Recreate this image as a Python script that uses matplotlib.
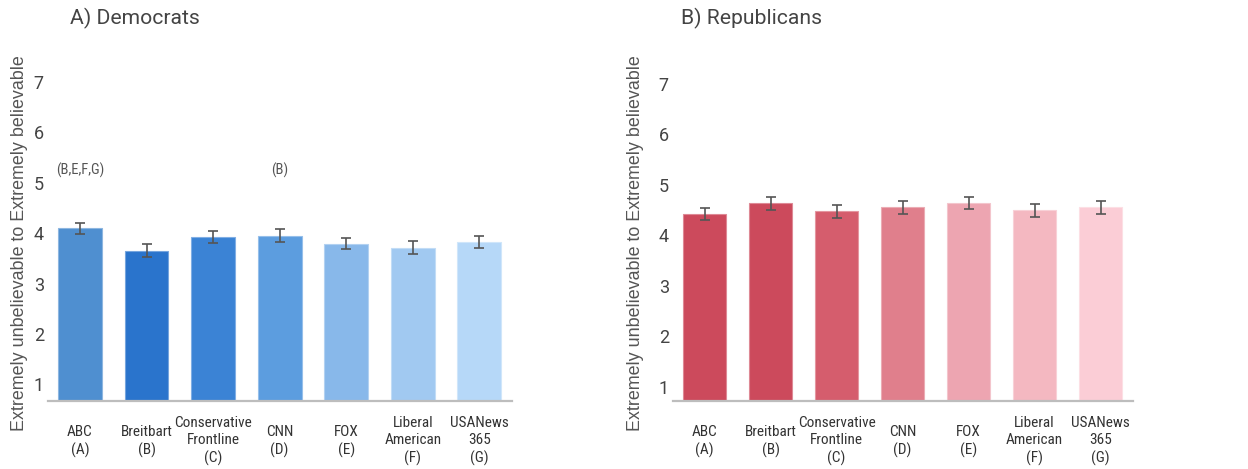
import matplotlib
matplotlib.use("Agg")
import matplotlib.pyplot as plt
import matplotlib.colors as mcolors
from matplotlib import font_manager
import numpy as np

categories = ["ABC\n(A)", "Breitbart\n(B)", "Conservative\nFrontline\n(C)", "CNN\n(D)",
              "FOX\n(E)", "Liberal\nAmerican\n(F)", "USANews\n365\n(G)"]
dem_values = [4.10, 3.65, 3.92, 3.95, 3.79, 3.71, 3.82]
dem_errors = [0.11, 0.125, 0.125, 0.125, 0.115, 0.125, 0.125]
rep_values = [4.42, 4.63, 4.47, 4.55, 4.63, 4.49, 4.55]
rep_errors = [0.12, 0.13, 0.12, 0.12, 0.12, 0.13, 0.12]
dem_colors = ["#4f8fd0", "#2a74cc", "#3b83d5", "#5c9ddf", "#88b8ea", "#a1c9f1", "#b6d8f8"]
rep_colors = ["#cc4a5c", "#cc4a5c", "#d55d6d", "#e07f8c", "#eda5b1", "#f4b8c1", "#fbcdd6"]
dem_annotations = {0: "(B,E,F,G)", 3: "(B)"}
yticks = [1, 2, 3, 4, 5, 6, 7]
ylabel = "Extremely unbelievable to Extremely believable"

names = {f.name for f in font_manager.fontManager.ttflist}
NARROW = "Roboto Condensed" if "Roboto Condensed" in names else "Roboto"
NSIZE = 11 if NARROW == "Roboto Condensed" else 10

W, H = 1248, 469
fig = plt.figure(figsize=(W / 100, H / 100), dpi=100)


def lighten(c, f=0.35):
    r, g, b = mcolors.to_rgb(c)
    return (r + (1 - r) * f, g + (1 - g) * f, b + (1 - b) * f)


def panel(rect, values, errors, colors, ymin, title, title_x, ylabel_x, annotations=None):
    ax = fig.add_axes(rect)
    x = np.arange(len(values))
    ax.bar(x, [v - ymin for v in values], bottom=ymin, width=0.66, color=colors,
           edgecolor=[lighten(c) for c in colors], linewidth=0.8, zorder=2)
    ax.errorbar(x, values, yerr=errors, fmt="none", ecolor="#555555",
                elinewidth=1.2, capsize=3.3, capthick=1.2, zorder=3)
    ax.set_xlim(-0.48, 6.49)
    ax.set_ylim(ymin, 7.4)
    ax.set_yticks(yticks)
    ax.set_yticklabels([str(t) for t in yticks], fontfamily="Roboto", fontsize=13, color="#444444")
    ax.set_xticks(x)
    ax.set_xticklabels(categories, fontfamily=NARROW, fontsize=NSIZE,
                       color="#333333", linespacing=1.3)
    for lbl in ax.get_xticklabels():
        lbl.set_va("center")
    ax.tick_params(axis="x", length=0, pad=29)
    ax.tick_params(axis="y", length=0, pad=3)
    for s in ["top", "right", "left"]:
        ax.spines[s].set_visible(False)
    ax.spines["bottom"].set_color("#bdbdbd")
    ax.spines["bottom"].set_linewidth(1.6)
    if annotations:
        for i, t in annotations.items():
            ax.text(x[i], 5.25, t, ha="center", va="center", fontsize=NSIZE - 0.5,
                    fontfamily=NARROW, color="#555555")
    fig.text(title_x / W, 1 - 18 / H, title, ha="left", va="center",
             fontfamily="Roboto", fontsize=15.2, color="#444444")
    fig.text(ylabel_x / W, 1 - 243 / H, ylabel, rotation=90, ha="center", va="center",
             fontfamily="Liberation Sans", fontsize=12.9, color="#555555")
    return ax


# left panel: axes from x=48..512 px, y baseline at 401 px
panel([48 / W, 68 / H, 464 / W, 339.3 / H], dem_values, dem_errors, dem_colors, 0.67,
      "A) Democrats", 70, 20, dem_annotations)
panel([673 / W, 68 / H, 460 / W, 337.6 / H], rep_values, rep_errors, rep_colors, 0.72,
      "B) Republicans", 681, 635)

fig.savefig("out.png", dpi=100, facecolor="white")
